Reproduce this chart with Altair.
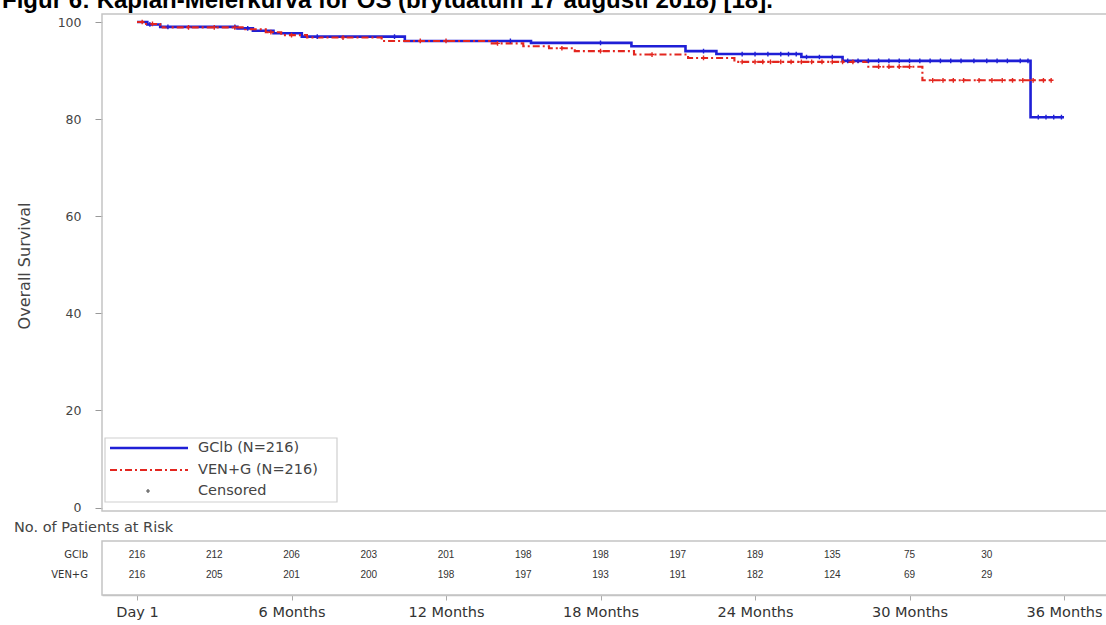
import altair as alt
import pandas as pd
import numpy as np

# ---------------- data ----------------
title_text = "Figur 6: Kaplan-Meierkurva för OS (brytdatum 17 augusti 2018) [18]."

gclb_name = "GClb"
ven_name = "VEN+G"
gclb_legend = "GClb (N=216)"
ven_legend = "VEN+G (N=216)"
cens_legend = "Censored"

# step curves (months, survival %)
gclb_t = [0, 0.4, 0.9, 3.9, 4.5, 5.3, 6.4, 10.4, 15.3, 19.2, 21.3, 22.5, 25.8, 27.4, 34.7, 36.0]
gclb_s = [100, 99.5, 99.0, 98.7, 98.2, 97.7, 97.0, 96.1, 95.7, 95.0, 94.0, 93.4, 92.8, 92.0, 80.4, 80.4]

ven_t = [0, 0.3, 0.9, 4.2, 5.0, 5.6, 6.6, 9.5, 13.7, 15.0, 16.0, 17.0, 19.3, 21.4, 23.2, 28.4, 30.5, 35.5]
ven_s = [100, 99.6, 98.9, 98.5, 97.9, 97.3, 96.8, 96.1, 95.6, 95.0, 94.6, 94.0, 93.3, 92.6, 91.8, 90.8, 88.0, 88.0]

# censoring times (months)
gclb_cens = [0.5, 1.2, 3.8, 4.3, 7.0, 10.0, 14.5, 18.0, 22.0, 23.5, 24.0, 24.5, 25.0, 25.3, 25.6,
             26.0, 26.5, 27.0, 27.6, 28.0, 28.4, 28.8, 29.2, 29.6, 30.0, 30.4, 30.8, 31.2, 31.6,
             32.0, 32.5, 33.0, 33.4, 33.8, 34.3, 34.6, 35.0, 35.3, 35.6, 35.9]
ven_cens = [0.2, 0.6, 2.0, 3.0, 3.8, 5.2, 6.0, 8.0, 11.0, 12.0, 14.0, 16.5, 18.0, 20.0, 22.0,
            23.5, 24.0, 24.3, 24.6, 25.0, 25.4, 25.8, 26.2, 26.6, 27.0, 27.4, 27.8, 28.8, 29.2,
            29.6, 30.0, 30.9, 31.3, 31.7, 32.1, 32.7, 33.2, 33.6, 34.0, 34.4, 34.8, 35.2, 35.5]

# numbers at risk
risk_months = [0, 3, 6, 9, 12, 15, 18, 21, 24, 27, 30, 33]
risk_gclb = [216, 212, 206, 203, 201, 198, 198, 197, 189, 135, 75, 30]
risk_ven = [216, 205, 201, 200, 198, 197, 193, 191, 182, 124, 69, 29]

tick_months = [0, 6, 12, 18, 24, 30, 36]
tick_labels = ["Day 1", "6 Months", "12 Months", "18 Months", "24 Months", "30 Months", "36 Months"]
y_ticks = [0, 20, 40, 60, 80, 100]

# ---------------- styling / layout ----------------
BLUE = "#1f1fd6"
RED = "#e3261f"
TXT = "#444444"
FRAME = "#c4c4c4"
FONT = "DejaVu Sans"

W, H = 1004, 581
X_MIN, X_MAX = -1.36, 37.63
Y_MIN, Y_MAX = -18.0, 101.65


def surv_at(ts, ss, t):
    i = int(np.searchsorted(np.array(ts), t, side="right")) - 1
    return ss[i]


curve_g = pd.DataFrame({"t": gclb_t, "s": gclb_s})
curve_v = pd.DataFrame({"t": ven_t, "s": ven_s})
cens_g = pd.DataFrame({"t": gclb_cens, "s": [surv_at(gclb_t, gclb_s, c) for c in gclb_cens]})
cens_v = pd.DataFrame({"t": ven_cens, "s": [surv_at(ven_t, ven_s, c) for c in ven_cens]})
risk_g = pd.DataFrame({"t": risk_months, "n": risk_gclb})
risk_v = pd.DataFrame({"t": risk_months, "n": risk_ven})

expr = "''"
for m, lab in zip(reversed(tick_months), reversed(tick_labels)):
    expr = f"datum.value == {m} ? '{lab}' : ({expr})"

xscale = alt.Scale(domain=[X_MIN, X_MAX], nice=False, zero=False)
yscale = alt.Scale(domain=[Y_MIN, Y_MAX], nice=False, zero=False)

x_axis = alt.Axis(values=tick_months, labelExpr=expr, title=None, grid=False,
                  domainColor=FRAME, domainWidth=1.5, tickColor="#aaaaaa", tickSize=5,
                  labelFont=FONT, labelFontSize=14.5, labelColor="#333333", labelPadding=5,
                  labelFlush=False, labelOverlap=False)
y_axis = alt.Axis(values=y_ticks, title=None, grid=False, domain=False,
                  tickColor="#999999", tickSize=7, labelFont=FONT, labelFontSize=12.5,
                  labelColor=TXT, labelPadding=14)

Xa = alt.X("t:Q", scale=xscale, axis=x_axis)
Ya = alt.Y("s:Q", scale=yscale, axis=y_axis)
Yn = alt.Y("s:Q", scale=yscale, axis=None)

one = pd.DataFrame({"k": [0]})

# frames
frame_top = alt.Chart(one).mark_rect(fillOpacity=0, stroke=FRAME, strokeWidth=1.5).encode(
    x=alt.value(0), x2=alt.value(W + 10), y=alt.value(0), y2=alt.value(497))
frame_risk = alt.Chart(one).mark_rect(fillOpacity=0, stroke=FRAME, strokeWidth=1.5).encode(
    x=alt.value(0), x2=alt.value(W + 10), y=alt.value(527), y2=alt.value(H))

line_g = alt.Chart(curve_g).mark_line(interpolate="step-after", color=BLUE, strokeWidth=2.6).encode(
    x=Xa, y=Ya)
line_v = alt.Chart(curve_v).mark_line(interpolate="step-after", color=RED, strokeWidth=2.1,
                                      strokeDash=[7, 3, 2, 3]).encode(x=Xa, y=Yn)

PLUS = "M-1,0L1,0M0,-1L0,1"
pts_g = alt.Chart(cens_g).mark_point(shape=PLUS, size=22, filled=False, color=BLUE,
                                     strokeWidth=1.4, opacity=1).encode(x=Xa, y=Yn)
pts_v = alt.Chart(cens_v).mark_point(shape=PLUS, size=22, filled=False, color=RED,
                                     strokeWidth=1.4, opacity=1).encode(x=Xa, y=Yn)

# risk table
risk_txt_g = alt.Chart(risk_g).mark_text(font="Liberation Sans", fontSize=10, color="#333333").encode(
    x=Xa, y=alt.value(541), text="n:Q")
risk_txt_v = alt.Chart(risk_v).mark_text(font="Liberation Sans", fontSize=10, color="#333333").encode(
    x=Xa, y=alt.value(561), text="n:Q")
row_labels = alt.Chart(pd.DataFrame({"lab": [gclb_name, ven_name], "yy": [541, 561]})).mark_text(
    font=FONT, fontSize=10, color="#333333", align="right", baseline="middle").encode(
    x=alt.value(-14), y=alt.Y("yy:Q", scale=None, axis=None), text="lab:N")

risk_title = alt.Chart(one).mark_text(text="No. of Patients at Risk", font=FONT, fontSize=14.5,
                                      color=TXT, align="left", baseline="middle").encode(
    x=alt.value(-88), y=alt.value(514))

y_title = alt.Chart(one).mark_text(text="Overall Survival", font=FONT, fontSize=16, color=TXT,
                                   angle=270, align="center", baseline="middle").encode(
    x=alt.value(-77), y=alt.value(252))

title = alt.Chart(one).mark_text(text=title_text, font="Liberation Sans", fontWeight="bold",
                                 fontSize=24, color="#000000", align="left",
                                 baseline="alphabetic").encode(
    x=alt.value(-100), y=alt.value(-6))

# legend (inside, bottom-left)
leg_box = alt.Chart(one).mark_rect(fill="white", stroke="#cfcfcf", strokeWidth=1.2).encode(
    x=alt.value(3), x2=alt.value(235), y=alt.value(424), y2=alt.value(488))
leg_g = alt.Chart(one).mark_rule(color=BLUE, strokeWidth=2.6).encode(
    x=alt.value(8), x2=alt.value(86), y=alt.value(434))
leg_v = alt.Chart(one).mark_rule(color=RED, strokeWidth=2.1, strokeDash=[7, 3, 2, 3]).encode(
    x=alt.value(8), x2=alt.value(86), y=alt.value(456))
leg_c = alt.Chart(one).mark_point(shape=PLUS, size=16, filled=False, color="#555555",
                                  strokeWidth=1.2, opacity=1).encode(
    x=alt.value(46), y=alt.value(477))
leg_txt = alt.Chart(pd.DataFrame({"lab": [gclb_legend, ven_legend, cens_legend],
                                  "yy": [434, 456, 477]})).mark_text(
    font=FONT, fontSize=14.5, color=TXT, align="left", baseline="middle").encode(
    x=alt.value(96), y=alt.Y("yy:Q", scale=None, axis=None), text="lab:N")

chart = alt.layer(
    frame_top, frame_risk, line_g, line_v, pts_g, pts_v,
    risk_txt_g, risk_txt_v, row_labels, risk_title, y_title, title,
    leg_box, leg_g, leg_v, leg_c, leg_txt,
).resolve_scale(y="independent").properties(
    width=W, height=H,
    autosize=alt.AutoSizeParams(type="none"),
    padding={"left": 102, "top": 14, "right": 0, "bottom": 28},
    background="white",
).configure_view(stroke=None)

chart.save("out.html", embed_options={"renderer": "svg", "actions": False})
